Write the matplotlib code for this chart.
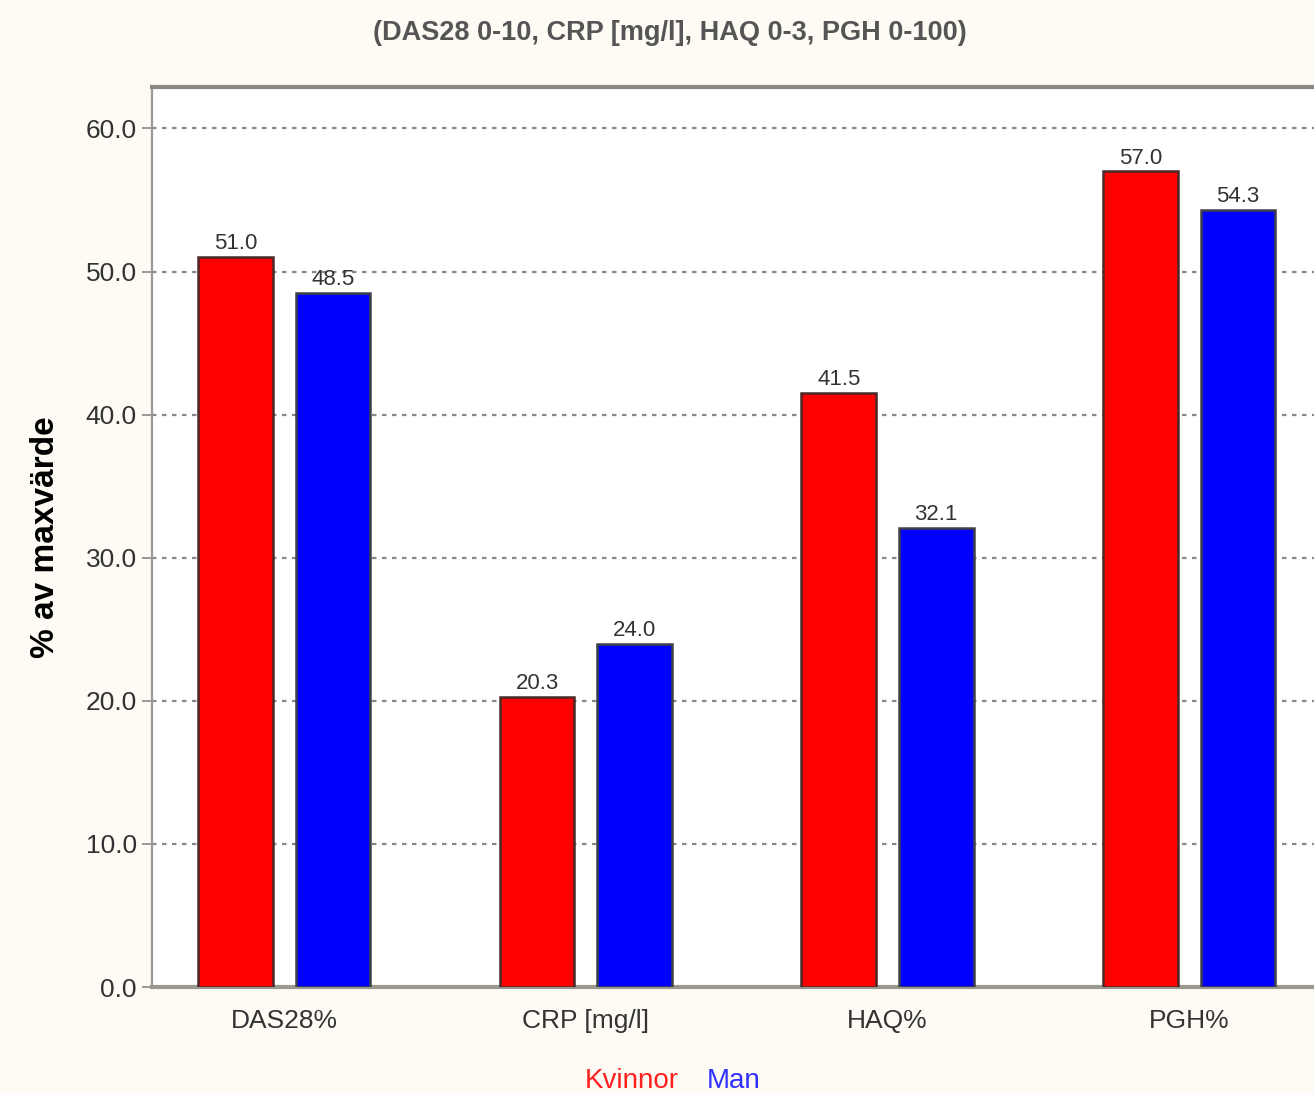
import matplotlib
matplotlib.use("Agg")
import matplotlib.pyplot as plt
import numpy as np

categories = ["DAS28%", "CRP [mg/l]", "HAQ%", "PGH%"]
kvinnor = [51.0, 20.3, 41.5, 57.0]
man = [48.5, 24.0, 32.1, 54.3]
yticks = [0, 10, 20, 30, 40, 50, 60]

plt.rcParams['font.family'] = ['Liberation Sans', 'DejaVu Sans']

bg = '#fdfbf3'
fig = plt.figure(figsize=(13.14, 10.94), dpi=100, facecolor=bg)
ax = fig.add_axes([0.1157, 0.0978, 0.895, 0.8227])
ax.set_facecolor('white')

x = np.arange(len(categories))
w = 0.247
off = 0.1616
b1 = ax.bar(x - off, kvinnor, w, color='#ff0000', edgecolor='#4a2828', linewidth=1.8, zorder=3)
b2 = ax.bar(x + off, man, w, color='#0000ff', edgecolor='#404048', linewidth=1.8, zorder=3)

# value labels above bars
for bars, vals in [(b1, kvinnor), (b2, man)]:
    for r, v in zip(bars, vals):
        ax.annotate("%.1f" % v, (r.get_x() + r.get_width() / 2, v), xytext=(0, 2),
                    textcoords='offset points', ha='center', va='bottom',
                    fontsize=16, color='#333333')

ax.set_xlim(-0.4375, 3.46)
ax.set_ylim(0, 62.9)
ax.set_yticks(yticks)
ax.set_yticklabels(["%.1f" % t for t in yticks], fontsize=19, color='#333333')
ax.set_xticks(x)
ax.set_xticklabels(categories, fontsize=19, color='#333333')
ax.tick_params(axis='x', length=0, pad=16)
ax.tick_params(axis='y', length=7, width=1.2, color='#888888', pad=4)

for t in yticks[1:]:
    ax.axhline(t, color='#888888', linewidth=1.6, linestyle=(0, (2, 2.5)), zorder=1)

ax.spines['right'].set_visible(False)
ax.spines['left'].set_color('#999999')
ax.spines['left'].set_linewidth(1.6)
ax.spines['top'].set_color('#8a8a84')
ax.spines['top'].set_linewidth(3)
ax.spines['bottom'].set_color('#999990')
ax.spines['bottom'].set_linewidth(3)

ax.set_ylabel("% av maxvärde", fontsize=24, fontweight='bold', labelpad=18)

fig.text(0.51, 0.970, "(DAS28 0-10, CRP [mg/l], HAQ 0-3, PGH 0-100)", ha='center', va='center',
         fontsize=19.5, fontweight='bold', color='#555555')
fig.text(0.481, 0.012, "Kvinnor", ha='center', va='center', fontsize=20, color='#ff2020')
fig.text(0.558, 0.012, "Man", ha='center', va='center', fontsize=20, color='#3030ff')

fig.savefig("out.png", dpi=100, facecolor=bg)
